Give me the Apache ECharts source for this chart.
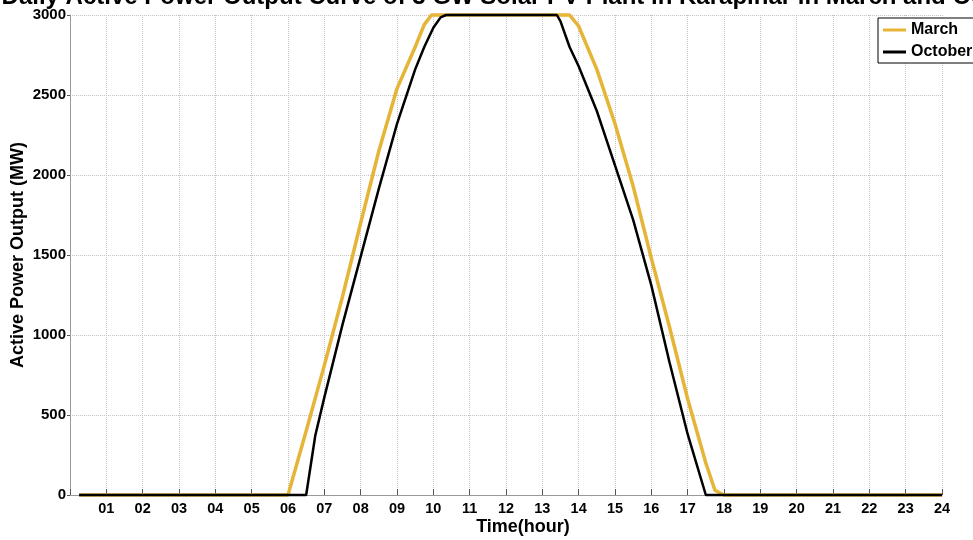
<!DOCTYPE html>
<html>
<head>
<meta charset="utf-8">
<script src="https://cdn.jsdelivr.net/npm/echarts@6/dist/echarts.min.js"></script>
<style>html,body{margin:0;padding:0;background:#fff;}#c{width:973px;height:540px;}</style>
</head>
<body>
<div id="c"></div>
<script>
// ---- data ----
const titleText = 'Daily Active Power Output Curve of 3 GW Solar PV Plant in Karapinar in March and October';
const hourTicks = ['01','02','03','04','05','06','07','08','09','10','11','12','13','14','15','16','17','18','19','20','21','22','23','24'];
const marchHours = [0.25, 6.0, 6.5, 7.0, 7.5, 8.0, 8.5, 9.0, 9.5, 9.75, 9.95, 13.75, 14.0, 14.5, 15.0, 15.5, 16.0, 16.5, 17.0, 17.5, 17.75, 18.0, 24.0];
const marchMW    = [0,    0,   400, 810, 1240, 1700, 2150, 2540, 2800, 2940, 3000, 3000, 2930, 2660, 2320, 1930, 1480, 1050, 600, 200, 30, 0, 0];
const octHours = [0.25, 6.5, 6.75, 7.0, 7.5, 8.0, 8.5, 9.0, 9.5, 9.75, 10.0, 10.2, 10.35, 13.4, 13.5, 13.75, 14.0, 14.5, 15.0, 15.5, 16.0, 16.5, 17.0, 17.5, 24.0];
const octMW    = [0,    0,   370,  610, 1065, 1490, 1915, 2320, 2660, 2800, 2920, 2985, 3000, 3000, 2960, 2800, 2680, 2400, 2060, 1720, 1310, 830, 380, 0, 0];
const seriesNames = ['March', 'October'];

const pair = (xs, ys) => xs.map((x, i) => [x, ys[i]]);
const FONT = 'Arial, "Liberation Sans", sans-serif';

const chart = echarts.init(document.getElementById('c'), null, {renderer: 'canvas'});
chart.setOption({
  backgroundColor: '#fff',
  animation: false,
  grid: {left: 70, right: 31, top: 15, bottom: 45, containLabel: false, outerBoundsMode: 'none'},
  graphic: [{
    type: 'text',
    style: {text: titleText, x: 523, y: 9, textAlign: 'center', textVerticalAlign: 'bottom',
            font: 'bold 24px ' + FONT, fill: '#000'}
  }],
  legend: {
    orient: 'vertical', left: 878, top: 18,
    data: seriesNames,
    icon: 'rect',
    backgroundColor: '#fff', borderColor: '#000', borderWidth: 1, borderRadius: 0,
    padding: [4, 30, 3, 5],
    itemWidth: 23, itemHeight: 3, itemGap: 6,
    textStyle: {fontFamily: FONT, fontWeight: 'bold', fontSize: 16, color: '#000', lineHeight: 16}
  },
  xAxis: {
    type: 'value', min: 0, max: 24, interval: 1,
    name: 'Time(hour)', nameLocation: 'middle', nameGap: 23, nameMoveOverlap: false,
    nameTextStyle: {fontFamily: FONT, fontWeight: 'bold', fontSize: 18, color: '#000', padding: [0, 0, 0, 34]},
    axisLine: {show: true, onZero: false, lineStyle: {color: '#999', width: 1}},
    axisTick: {show: true, inside: true, length: 6, lineStyle: {color: '#555'}},
    axisLabel: {margin: 6, fontFamily: FONT, fontWeight: 'bold', fontSize: 14.5, color: '#000',
                formatter: v => (v >= 1 && v <= 24) ? hourTicks[v - 1] : ''},
    splitLine: {show: true, lineStyle: {color: '#c4c4c4', type: 'dotted', width: 1}}
  },
  yAxis: {
    type: 'value', min: 0, max: 3000, interval: 500,
    name: 'Active Power Output (MW)', nameLocation: 'middle', nameGap: 43, nameRotate: 90, nameMoveOverlap: false,
    nameTextStyle: {fontFamily: FONT, fontWeight: 'bold', fontSize: 18, color: '#000'},
    axisLine: {show: true, lineStyle: {color: '#999', width: 1}},
    axisTick: {show: true, inside: false, length: 3, lineStyle: {color: '#555'}},
    axisLabel: {margin: 4, fontFamily: FONT, fontWeight: 'bold', fontSize: 15, color: '#000',
                formatter: v => String(v)},
    splitLine: {show: true, lineStyle: {color: '#c4c4c4', type: 'dotted', width: 1}}
  },
  series: [
    {name: seriesNames[0], type: 'line', data: pair(marchHours, marchMW), symbol: 'none', clip: false,
     lineStyle: {color: '#E6B436', width: 3.5}, itemStyle: {color: '#E6B436'}, z: 2},
    {name: seriesNames[1], type: 'line', data: pair(octHours, octMW), symbol: 'none', clip: false,
     lineStyle: {color: '#000', width: 2.5}, itemStyle: {color: '#000'}, z: 3}
  ]
});
</script>
</body>
</html>
